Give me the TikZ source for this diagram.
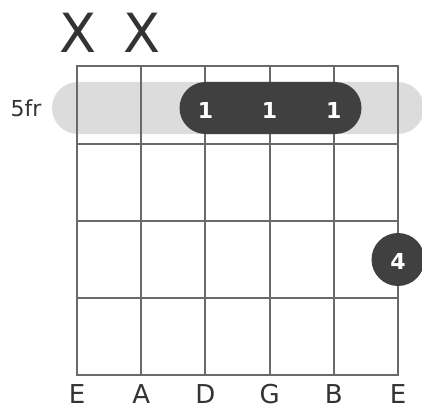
\documentclass[tikz,border=0pt]{standalone}
\usepackage{fontspec}
\setmainfont{DejaVu Sans}
\definecolor{gridgray}{HTML}{6A6A6A}
\definecolor{bandgray}{HTML}{DCDCDC}
\definecolor{dotdark}{HTML}{404040}
\definecolor{labeldark}{HTML}{333333}
\begin{document}
\begin{tikzpicture}[x=1pt,y=-1pt,
  gridline/.style={draw=gridgray,line width=2pt},
  band/.style={fill=bandgray,rounded corners=26pt,minimum width=372pt,minimum height=52pt,inner sep=0pt},
  barre/.style={fill=dotdark,rounded corners=26pt,minimum width=182pt,minimum height=52pt,inner sep=0pt},
  dot/.style={circle,fill=dotdark,minimum size=53pt,inner sep=0pt},
  finger/.style={text=white,font=\fontsize{22}{24}\selectfont\bfseries,inner sep=0pt},
  strname/.style={text=labeldark,font=\fontsize{26}{30}\selectfont,inner sep=0pt},
  mute/.style={text=labeldark,font=\fontsize{54}{60}\selectfont,inner sep=0pt},
  fretlabel/.style={text=labeldark,font=\fontsize{22}{24}\selectfont,inner sep=0pt}]
\useasboundingbox (0,0) rectangle (422,409);
% position band
\node[band] (band) at (238,108) {};
% strings
\foreach \i in {0,...,5}{
  \coordinate (st\i) at (77+64.2*\i,66);
  \coordinate (sb\i) at (77+64.2*\i,375);
}
% frets
\foreach \j/\y in {0/66,1/143.5,2/221,3/298,4/375}{
  \coordinate (fl\j) at (77,\y);
  \coordinate (fr\j) at (398,\y);
}
\foreach \i in {0,...,5}{\draw[gridline] (st\i) -- (sb\i);}
\foreach \j in {0,...,4}{\draw[gridline,line cap=rect] (fl\j) -- (fr\j);}
% barre and dot
\node[barre] (barre) at (270.5,108) {};
\node[dot] (dot4) at (398,259.5) {};
\node[finger] (f1a) at (205.4,110.5) {1};
\node[finger] (f1b) at (269.6,110.5) {1};
\node[finger] (f1c) at (333.8,110.5) {1};
\node[finger] (f4) at (398,261.5) {4};
% fret label
\node[fretlabel] (fr) at (26,108) {5fr};
% mutes
\node[mute] (x1) at (77.5,33) {X};
\node[mute] (x2) at (142,33) {X};
% string names
\foreach \n/\l [count=\k from 0] in {sE/E,sA/A,sD/D,sG/G,sB/B,se/E}{
  \node[strname] (\n) at (77+64.2*\k,394) {\l};
}
\end{tikzpicture}
\end{document}
